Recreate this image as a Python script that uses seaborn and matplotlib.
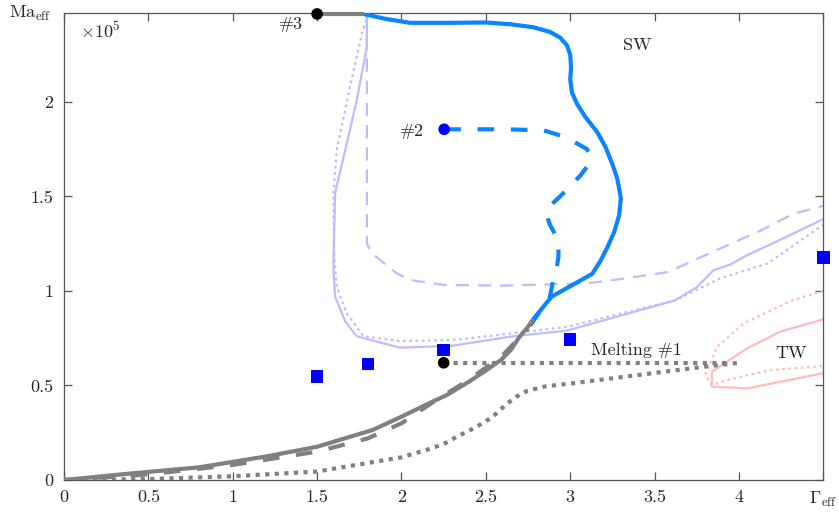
import numpy as np
import pandas as pd
import matplotlib
matplotlib.use("Agg")
import matplotlib.pyplot as plt
import seaborn as sns

# ---- data (Gamma_eff, Ma_eff / 1e5) ----
gray_solid_x = [0.0, 0.4, 0.8, 1.2, 1.5, 1.83, 2.0, 2.15, 2.27, 2.4, 2.49, 2.59, 2.65, 2.70, 2.75, 2.78]
gray_solid_y = [0.0, 0.035, 0.067, 0.125, 0.176, 0.265, 0.335, 0.40, 0.45, 0.52, 0.573, 0.635, 0.69, 0.758,
                0.81, 0.85]

gray_dash_x = [0.0, 0.5, 1.0, 1.5, 1.8, 2.0, 2.2, 2.4, 2.6, 2.75]
gray_dash_y = [0.0, 0.03, 0.08, 0.15, 0.22, 0.30, 0.42, 0.53, 0.66, 0.80]

gray_dot_x = [0.0, 0.5, 1.0, 1.5, 1.8, 2.0, 2.15, 2.25, 2.33, 2.42, 2.50, 2.56, 2.62, 2.68, 2.74, 2.85,
              3.0, 3.4, 3.8, 4.0]
gray_dot_y = [0.0, 0.005, 0.02, 0.045, 0.09, 0.12, 0.16, 0.19, 0.23, 0.27, 0.31, 0.35, 0.40, 0.44, 0.47,
              0.495, 0.51, 0.555, 0.60, 0.62]

melt_x = [2.25, 3.95]
melt_y = [0.62, 0.62]

top_gray_x = [1.5, 1.78]
top_gray_y = [2.465, 2.465]

sw_solid_x = [1.775, 1.9, 2.05, 2.3, 2.5, 2.65, 2.78, 2.88, 2.94, 2.98, 3.0, 3.005, 3.0, 3.01, 3.04, 3.09,
              3.16, 3.21, 3.25, 3.28, 3.30, 3.29, 3.26, 3.22, 3.18, 3.13, 2.89, 2.78]
sw_solid_y = [2.465, 2.44, 2.418, 2.418, 2.42, 2.41, 2.395, 2.37, 2.34, 2.30, 2.25, 2.18, 2.12, 2.05, 1.99,
              1.92, 1.84, 1.76, 1.67, 1.59, 1.49, 1.40, 1.31, 1.23, 1.16, 1.09, 0.97, 0.85]

sw_dash_x = [2.253, 2.6, 2.84, 2.95, 3.04, 3.10, 3.12, 3.11, 3.06, 3.0, 2.94, 2.88, 2.86, 2.88, 2.91, 2.93,
             2.93, 2.92, 2.90, 2.88, 2.75]
sw_dash_y = [1.855, 1.855, 1.85, 1.82, 1.78, 1.75, 1.71, 1.67, 1.61, 1.555, 1.50, 1.45, 1.40, 1.35, 1.30,
             1.24, 1.18, 1.12, 1.06, 0.97, 0.80]

lav_solid_x = [1.785, 1.795, 1.795, 1.735, 1.676, 1.607, 1.597, 1.597, 1.607, 1.666, 1.735, 1.99, 2.3, 2.66,
               2.98, 3.3, 3.62, 3.75, 3.85, 3.95, 4.05, 4.22, 4.5]
lav_solid_y = [2.465, 2.45, 2.29, 2.01, 1.78, 1.52, 1.16, 1.11, 0.97, 0.84, 0.76, 0.70, 0.71, 0.76,
               0.79, 0.87, 0.95, 1.02, 1.11, 1.14, 1.19, 1.26, 1.38]

lav_dot_x = [1.80, 1.765, 1.70, 1.617, 1.597, 1.60, 1.617, 1.676, 1.775, 1.99, 2.3, 2.66, 2.98, 3.3, 3.62,
             3.89, 4.17, 4.5]
lav_dot_y = [2.465, 2.36, 2.10, 1.75, 1.52, 1.20, 1.02, 0.88, 0.76, 0.735, 0.74, 0.776, 0.81, 0.88, 0.95,
             1.067, 1.146, 1.35]

lav_dash_x = [1.795, 1.795, 1.824, 1.97, 2.05, 2.25, 2.6, 3.10, 3.33, 3.58, 3.87, 4.13, 4.32, 4.5]
lav_dash_y = [2.465, 1.25, 1.20, 1.094, 1.058, 1.032, 1.028, 1.04, 1.067, 1.10, 1.217, 1.32, 1.407, 1.45]

tw_solid_x = [4.5, 4.245, 4.05, 3.84, 3.84, 4.05, 4.5]
tw_solid_y = [0.85, 0.785, 0.697, 0.573, 0.494, 0.485, 0.565]

tw_dot_x = [4.5, 4.32, 4.03, 3.87, 3.80, 3.84, 3.93, 4.19, 4.5]
tw_dot_y = [1.0, 0.952, 0.829, 0.705, 0.556, 0.503, 0.529, 0.582, 0.603]

sq_x = [1.5, 1.8, 2.25, 3.0, 4.5]
sq_y = [0.547, 0.614, 0.688, 0.744, 1.176]

dot_x = [1.5, 2.25]
dot_y = [2.465, 0.62]
dot2_x = [2.253]
dot2_y = [1.855]

x_ticks = [0, 0.5, 1, 1.5, 2, 2.5, 3, 3.5, 4, 4.5]
x_labels = ["0", "0.5", "1", "1.5", "2", "2.5", "3", "3.5", "4", r"$\Gamma_{\mathrm{eff}}$"]
y_ticks = [0, 0.5, 1, 1.5, 2]
y_labels = ["0", "0.5", "1", "1.5", "2"]

# ---- style ----
sns.set_style("ticks")
plt.rcParams["font.family"] = ["cmr10", "DejaVu Serif"]
plt.rcParams["mathtext.fontset"] = "cm"
plt.rcParams["axes.unicode_minus"] = False

GRAY = "#808080"
BLUE = "#0a84ff"
LAV = "#bcbcff"
PINK = "#ffbcbc"

fig = plt.figure(figsize=(8.39, 5.14), dpi=100)
ax = fig.add_axes([0.0763, 0.0661, 0.905, 0.9086])


def line(xs, ys, color, lw, dashes=None, zorder=2):
    df = pd.DataFrame({"x": xs, "y": ys})
    sns.lineplot(data=df, x="x", y="y", sort=False, estimator=None, ax=ax,
                 color=color, linewidth=lw, zorder=zorder)
    ln = ax.lines[-1]
    if dashes is not None:
        ln.set_dashes(dashes)
    ln.set_solid_capstyle("butt")
    ln.set_dash_capstyle("butt")
    ln.set_solid_joinstyle("round")
    return ln


# pale loop (SW boundary variants)
line(lav_solid_x, lav_solid_y, LAV, 1.6)
line(lav_dot_x, lav_dot_y, LAV, 1.6, dashes=(1.2, 1.6))
line(lav_dash_x, lav_dash_y, LAV, 1.6, dashes=(6, 4))

# TW region
line(tw_solid_x, tw_solid_y, PINK, 1.6)
line(tw_dot_x, tw_dot_y, PINK, 1.6, dashes=(1.2, 1.6))

# main branches
line(gray_dot_x, gray_dot_y, GRAY, 3.0, dashes=(1, 1.3), zorder=3)
line(melt_x, melt_y, GRAY, 3.0, dashes=(1, 1.3), zorder=3)
line(gray_dash_x, gray_dash_y, GRAY, 3.0, dashes=(4, 4), zorder=3)
line(sw_dash_x, sw_dash_y, BLUE, 3.0, dashes=(4, 4), zorder=3)
line(sw_solid_x, sw_solid_y, BLUE, 3.0, zorder=4)
line(gray_solid_x, gray_solid_y, GRAY, 3.0, zorder=4)
top = line(top_gray_x, top_gray_y, GRAY, 3.0, zorder=4)
top.set_clip_on(False)

# markers
sns.scatterplot(x=sq_x, y=sq_y, marker="s", s=80, color="#0000ff", edgecolor="none",
                ax=ax, zorder=6, clip_on=False)
sns.scatterplot(x=dot_x, y=dot_y, marker="o", s=70, color="black", edgecolor="none",
                ax=ax, zorder=7, clip_on=False)
sns.scatterplot(x=dot2_x, y=dot2_y, marker="o", s=70, color="#0000ff", edgecolor="none",
                ax=ax, zorder=7, clip_on=False)

# annotations
fs = 13
ax.text(1.346, 2.41, "#3", fontsize=fs, ha="center", va="center")
ax.text(2.06, 1.843, "#2", fontsize=fs, ha="center", va="center")
ax.text(3.395, 2.298, "SW", fontsize=fs, ha="center", va="center")
ax.text(3.395, 0.684, "Melting #1", fontsize=fs, ha="center", va="center")
ax.text(4.31, 0.67, "TW", fontsize=fs, ha="center", va="center")
ax.text(0.095, 2.38, r"$\times10^5$", fontsize=13, ha="left", va="center")
ax.text(-0.016, 1.0, r"$\mathrm{Ma}_{\mathrm{eff}}$", fontsize=fs, ha="right", va="center",
        transform=ax.transAxes)

# axes
ax.set_xlim(0, 4.5)
ax.set_ylim(0, 2.47)
ax.set_xticks(x_ticks)
ax.set_xticklabels(x_labels, fontsize=fs)
ax.set_yticks(y_ticks)
ax.set_yticklabels(y_labels, fontsize=fs)
ax.set_xlabel("")
ax.set_ylabel("")
ax.tick_params(direction="in", length=6, width=0.9, color="#555555",
               top=True, right=True)
ax.tick_params(axis="x", pad=7)
ax.tick_params(axis="y", pad=8)
for sp in ax.spines.values():
    sp.set_visible(True)
    sp.set_color("#555555")
    sp.set_linewidth(0.9)

fig.savefig("out.png", dpi=100)
